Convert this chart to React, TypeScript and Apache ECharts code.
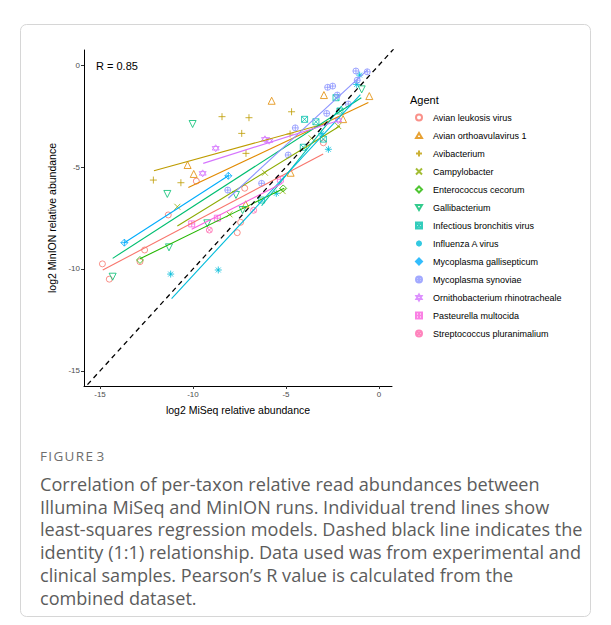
import React, { useEffect, useRef } from 'react';
import * as echarts from 'echarts';

// ---- axis ticks ----
const xTicks = [-15, -10, -5, 0];
const yTicks = [-15, -10, -5, 0];

// ---- agents ----
const agentNames = [
  'Avian leukosis virus',
  'Avian orthoavulavirus 1',
  'Avibacterium',
  'Campylobacter',
  'Enterococcus cecorum',
  'Gallibacterium',
  'Infectious bronchitis virus',
  'Influenza A virus',
  'Mycoplasma gallisepticum',
  'Mycoplasma synoviae',
  'Ornithobacterium rhinotracheale',
  'Pasteurella multocida',
  'Streptococcus pluranimalium',
];

// ---- points [MiSeq, MinION] (log2 relative abundance) ----
const avianLeukosisVirus = [[-14.87, -9.75], [-14.5, -10.5], [-12.6, -9.07], [-12.85, -9.64], [-11.33, -7.35], [-9.82, -5.69], [-7.22, -6.04], [-7.44, -7.71], [-7.62, -8.22], [-2.99, -3.81]];
const avianOrthoavulavirus1 = [[-5.77, -1.75], [-2.96, -1.47], [-0.52, -1.52], [-1.93, -2.65], [-10.29, -4.9], [-9.96, -5.34], [-4.75, -5.28], [-7.17, -6.83]];
const avibacterium = [[-8.44, -2.53], [-6.99, -2.58], [-7.38, -3.35], [-7.15, -4.33], [-12.13, -5.64], [-10.65, -5.77], [-4.7, -2.29], [-4.78, -3.38]];
const campylobacter = [[-10.84, -6.95], [-6.13, -5.28], [-3.62, -3.59], [-2.19, -2.99], [-8.04, -7.32], [-5.18, -6.18]];
const enterococcusCecorum = [[-12.85, -9.56], [-5.15, -6.05]];
const gallibacterium = [[-14.32, -10.38], [-10.02, -2.89], [-11.38, -6.32], [-7.69, -6.37], [-11.29, -8.94], [-9.23, -7.76], [-7.33, -7.11], [-0.93, -1.19]];
const infectiousBronchitisVirus = [[-6.31, -6.62], [-4.07, -4.03], [-4.0, -2.66], [-3.39, -2.78], [-2.99, -3.63], [-2.31, -1.6], [-2.1, -2.25]];
const influenzaAVirus = [[-11.2, -10.25], [-8.64, -10.05], [-5.52, -6.29], [-3.08, -3.36], [-2.72, -4.13], [-1.2, -0.95], [-1.04, -0.49]];
const mycoplasmaGallisepticum = [[-13.69, -8.71], [-8.1, -5.43]];
const mycoplasmaSynoviae = [[-2.76, -1.09], [-2.49, -1.03], [-1.24, -0.29], [-0.63, -0.33], [-1.17, -0.74], [-2.81, -2.37], [-4.5, -3.08], [-2.24, -1.47], [-4.88, -4.41], [-1.65, -1.91], [-8.13, -6.13], [-6.31, -5.8]];
const ornithobacteriumRhinotracheale = [[-8.78, -4.08], [-9.48, -5.31], [-6.13, -3.64], [-5.9, -3.71], [-2.19, -2.7]];
const pasteurellaMultocida = [[-10.07, -7.79], [-8.69, -7.51], [-5.3, -5.6]];
const streptococcusPluranimalium = [[-9.12, -8.09], [-6.74, -7.12]];

// ---- least-squares trend lines (start, end) ----
const avianLeukosisFit = [[-14.85, -10.05], [-3.0, -4.36]];
const avianOrthoavulavirusFit = [[-10.25, -6.01], [-0.57, -1.83]];
const avibacteriumFit = [[-12.1, -5.18], [-3.0, -2.9]];
const campylobacterFit = [[-10.84, -7.89], [-2.1, -2.99]];
const enterococcusFit = [[-12.85, -9.5], [-5.1, -6.04]];
const gallibacteriumFit = [[-14.32, -9.48], [-0.95, -1.6]];
const infectiousBronchitisFit = [[-6.31, -6.9], [-2.0, -2.0]];
const influenzaFit = [[-11.15, -11.45], [-1.0, -1.45]];
const mycoplasmaGallisepticumFit = [[-13.69, -8.71], [-8.1, -5.43]];
const mycoplasmaSynoviaeFit = [[-8.1, -6.53], [-0.63, -0.25]];
const ornithobacteriumFit = [[-9.45, -4.82], [-2.2, -2.73]];
const pasteurellaFit = [[-10.07, -8.05], [-5.2, -5.8]];
const streptococcusFit: number[][] = [];

const identityLine = [[-16, -16], [1, 1]];

const agentPoints = [
  avianLeukosisVirus, avianOrthoavulavirus1, avibacterium, campylobacter, enterococcusCecorum,
  gallibacterium, infectiousBronchitisVirus, influenzaAVirus, mycoplasmaGallisepticum,
  mycoplasmaSynoviae, ornithobacteriumRhinotracheale, pasteurellaMultocida, streptococcusPluranimalium,
];
const agentFits = [
  avianLeukosisFit, avianOrthoavulavirusFit, avibacteriumFit, campylobacterFit, enterococcusFit,
  gallibacteriumFit, infectiousBronchitisFit, influenzaFit, mycoplasmaGallisepticumFit,
  mycoplasmaSynoviaeFit, ornithobacteriumFit, pasteurellaFit, streptococcusFit,
];

// ---- styles ----
const agentColors = ['#F8766D', '#E18A00', '#BE9C00', '#8CAB00', '#24B700', '#00BE70', '#00C1AB', '#00BBDA', '#00ACFC', '#8B93FF', '#D575FE', '#F962DD', '#FF65AC'];
const C = 'M0,5A5,5,0,1,1,10,5A5,5,0,1,1,0,5Z';
const agentSymbols = [
  'path://' + C,
  'path://M5,0L10,8.66L0,8.66Z',
  'path://M5,0L5,10M0,5L10,5',
  'path://M0,0L10,10M10,0L0,10',
  'path://M5,0L10,5L5,10L0,5Z',
  'path://M0,0L10,0L5,8.66Z',
  'path://M0,0L10,0L10,10L0,10ZM0,0L10,10M10,0L0,10',
  'path://M5,0L5,10M0,5L10,5M1.5,1.5L8.5,8.5M8.5,1.5L1.5,8.5',
  'path://M5,0L10,5L5,10L0,5ZM5,0L5,10M0,5L10,5',
  'path://' + C + 'M5,0L5,10M0,5L10,5',
  'path://M5,0L9.33,7.5L0.67,7.5ZM5,10L0.67,2.5L9.33,2.5Z',
  'path://M0,0L10,0L10,10L0,10ZM5,0L5,10M0,5L10,5',
  'path://' + C + 'M1.46,1.46L8.54,8.54M8.54,1.46L1.46,8.54',
];
const agentSizes = [6, 7, 7, 6, 7, 7, 6, 7, 7, 6, 7, 6, 6];

const HELV = '"Liberation Sans", Arial, Helvetica, sans-serif';
const CAP = '"Open Sans", "Noto Sans", sans-serif';

const captionLines = [
  'Correlation of per-taxon relative read abundances between',
  'Illumina MiSeq and MinION runs. Individual trend lines show',
  'least-squares regression models. Dashed black line indicates the',
  'identity (1:1) relationship. Data used was from experimental and',
  'clinical samples. Pearson\u2019s R value is calculated from the',
  'combined dataset.',
];

export default function App() {
  const ref = useRef<HTMLDivElement>(null);
  useEffect(() => {
    if (!ref.current) return;
    const chart = echarts.init(ref.current, undefined, { renderer: 'svg' });

    const scatterSeries = agentNames.map((name, i) => ({
      type: 'scatter',
      name,
      data: agentPoints[i],
      symbol: agentSymbols[i],
      symbolSize: agentSizes[i],
      itemStyle: { color: 'rgba(255,255,255,0)', borderColor: agentColors[i], borderWidth: 1 },
      z: 3,
      silent: true,
    }));
    const fitSeries = agentNames
      .map((name, i) => ({
        type: 'line',
        name: 'fit ' + name,
        data: agentFits[i],
        symbol: 'none',
        lineStyle: { color: agentColors[i], width: 1.1 },
        z: 4,
        silent: true,
      }))
      .filter((s) => s.data.length > 0);

    const graphics: any[] = [
      {
        type: 'rect',
        shape: { x: 20.5, y: 24.5, width: 570, height: 592, r: 6 },
        style: { fill: 'none', stroke: '#d6d6d6', lineWidth: 1 },
        z: 0,
      },
      {
        type: 'text',
        x: 96,
        y: 66,
        style: { text: 'R = 0.85', font: `11px ${HELV}`, fill: '#000', textVerticalAlign: 'middle' },
      },
      {
        type: 'text',
        x: 410,
        y: 100,
        style: { text: 'Agent', font: `11px ${HELV}`, fill: '#000', textVerticalAlign: 'middle' },
      },
      {
        type: 'text',
        x: 40,
        y: 456,
        style: { text: 'F\u200AI\u200AG\u200AU\u200AR\u200AE 3', font: `13.5px ${CAP}`, fill: '#6e6e6e', textVerticalAlign: 'middle' },
      },
      ...captionLines.map((t, i) => ({
        type: 'text',
        x: 40,
        y: 484 + i * 22.7,
        style: { text: t, font: `18.1px ${CAP}`, fill: '#5c5c5c', textVerticalAlign: 'middle' },
      })),
    ];

    chart.setOption({
      animation: false,
      grid: { left: 84, top: 50, width: 308, height: 336, containLabel: false },
      xAxis: {
        type: 'value',
        min: -15.86,
        max: 0.7,
        name: 'log2 MiSeq relative abundance',
        nameLocation: 'middle',
        nameGap: 18,
        nameTextStyle: { fontFamily: HELV, fontSize: 10.5, color: '#000' },
        axisLine: { show: true, onZero: false, lineStyle: { color: '#000', width: 1 } },
        axisTick: { show: true, length: 3, lineStyle: { color: '#333' }, customValues: xTicks },
        axisLabel: { fontFamily: HELV, fontSize: 8, color: '#4D4D4D', margin: 4, customValues: xTicks, formatter: (v: number) => String(v) },
        splitLine: { show: false },
      },
      yAxis: {
        type: 'value',
        min: -15.74,
        max: 0.74,
        name: 'log2 MinION relative abundance',
        nameLocation: 'middle',
        nameGap: 24,
        nameRotate: 90,
        nameTextStyle: { fontFamily: HELV, fontSize: 10.5, color: '#000' },
        axisLine: { show: true, onZero: false, lineStyle: { color: '#000', width: 1 } },
        axisTick: { show: true, length: 3, lineStyle: { color: '#333' }, customValues: yTicks },
        axisLabel: { fontFamily: HELV, fontSize: 8, color: '#4D4D4D', margin: 4, customValues: yTicks, formatter: (v: number) => String(v) },
        splitLine: { show: false },
      },
      legend: {
        data: agentNames,
        orient: 'vertical',
        left: 410,
        top: 108,
        itemWidth: 6,
        itemHeight: 6,
        itemGap: 9,
        selectedMode: false,
        textStyle: { fontFamily: HELV, fontSize: 9, color: '#000', padding: [0, 0, 0, 6] },
      },
      graphic: graphics,
      series: [
        ...scatterSeries,
        ...fitSeries,
        {
          type: 'line',
          name: 'identity',
          data: identityLine,
          symbol: 'none',
          clip: true,
          lineStyle: { color: '#000', width: 1.3, type: [5, 4] },
          z: 5,
          silent: true,
        },
      ],
    });
    return () => chart.dispose();
  }, []);
  return (
    <div
      ref={ref}
      style={{ position: 'absolute', left: 0, top: 0, width: 611, height: 625, background: '#fff' }}
    />
  );
}
